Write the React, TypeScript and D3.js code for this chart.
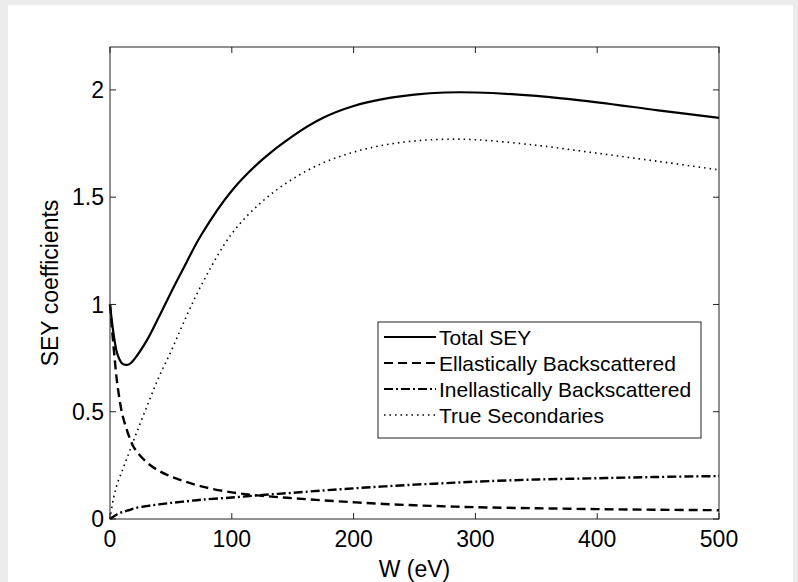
import { useEffect, useRef } from 'react';
import * as d3 from 'd3';

// energy grid (eV)
const energies = [0, 3, 6, 10, 13, 16, 20, 30, 40, 50, 60, 75, 100, 125, 150, 175, 200, 225, 250, 275, 300, 350, 400, 450, 500];

const totalSey = [1.0, 0.86, 0.77, 0.725, 0.718, 0.722, 0.745, 0.83, 0.94, 1.055, 1.165, 1.325, 1.53, 1.675, 1.785, 1.87, 1.925, 1.958, 1.978, 1.988, 1.988, 1.972, 1.942, 1.905, 1.87];
const elastic = [1.0, 0.80, 0.63, 0.49, 0.43, 0.38, 0.33, 0.265, 0.225, 0.198, 0.178, 0.152, 0.124, 0.108, 0.097, 0.087, 0.078, 0.07, 0.064, 0.059, 0.055, 0.05, 0.046, 0.043, 0.041];
const inelastic = [0.0, 0.012, 0.022, 0.032, 0.037, 0.042, 0.05, 0.06, 0.068, 0.075, 0.081, 0.09, 0.10, 0.112, 0.122, 0.133, 0.143, 0.152, 0.16, 0.167, 0.174, 0.184, 0.19, 0.196, 0.20];
const trueSec = [0.0, 0.10, 0.165, 0.225, 0.27, 0.315, 0.375, 0.52, 0.66, 0.78, 0.91, 1.09, 1.33, 1.48, 1.585, 1.66, 1.71, 1.743, 1.762, 1.77, 1.768, 1.742, 1.705, 1.667, 1.627];

const seriesNames = ['Total SEY', 'Ellastically Backscattered', 'Inellastically Backscattered', 'True Secondaries'];
const xTicks = [0, 100, 200, 300, 400, 500];
const yTicks = [0, 0.5, 1, 1.5, 2];

const W = 798, H = 582;
const FONT = '"Liberation Sans", Arial, Helvetica, sans-serif';

export default function App() {
  const svgRef = useRef<SVGSVGElement>(null);

  useEffect(() => {
    const svg = d3.select(svgRef.current);
    svg.selectAll('*').remove();

    // figure background
    svg.append('rect').attr('width', W).attr('height', H).attr('fill', '#ebebeb');
    svg.append('rect').attr('x', 8).attr('y', 5).attr('width', 785).attr('height', H - 5).attr('fill', '#fff');

    const m = { left: 110, top: 47, right: 719, bottom: 519 };
    const x = d3.scaleLinear().domain([0, 500]).range([m.left, m.right]);
    const y = d3.scaleLinear().domain([0, 2.2]).range([m.bottom, m.top]);

    const styles = [
      { dash: null, width: 2.2 },
      { dash: '9,5', width: 2.4 },
      { dash: '9,3,2,3', width: 2.4 },
      { dash: '1.5,4', width: 1.6 },
    ];
    const allSeries = [totalSey, elastic, inelastic, trueSec];

    const line = d3.line<number>()
      .x((_, i) => x(energies[i]))
      .y(d => y(d))
      .curve(d3.curveCatmullRom.alpha(0.5));

    const plot = svg.append('g');
    allSeries.forEach((vals, k) => {
      plot.append('path')
        .attr('d', line(vals))
        .attr('fill', 'none')
        .attr('stroke', '#000')
        .attr('stroke-width', styles[k].width)
        .attr('stroke-dasharray', styles[k].dash);
    });

    // box + inward ticks
    const ax = svg.append('g').attr('stroke', '#222').attr('stroke-width', 1);
    ax.append('rect')
      .attr('x', m.left).attr('y', m.top)
      .attr('width', m.right - m.left).attr('height', m.bottom - m.top)
      .attr('fill', 'none');
    const tl = 6;
    xTicks.forEach(t => {
      ax.append('line').attr('x1', x(t)).attr('x2', x(t)).attr('y1', m.bottom).attr('y2', m.bottom - tl);
      ax.append('line').attr('x1', x(t)).attr('x2', x(t)).attr('y1', m.top).attr('y2', m.top + tl);
    });
    yTicks.forEach(t => {
      ax.append('line').attr('x1', m.left).attr('x2', m.left + tl).attr('y1', y(t)).attr('y2', y(t));
      ax.append('line').attr('x1', m.right).attr('x2', m.right - tl).attr('y1', y(t)).attr('y2', y(t));
    });

    const txt = svg.append('g').attr('font-family', FONT).attr('fill', '#000');
    xTicks.forEach(t => {
      txt.append('text').attr('x', x(t)).attr('y', 547)
        .attr('text-anchor', 'middle').attr('font-size', 23).text(d3.format('~g')(t));
    });
    yTicks.forEach(t => {
      txt.append('text').attr('x', 104).attr('y', y(t)).attr('dy', '0.36em')
        .attr('text-anchor', 'end').attr('font-size', 23).text(d3.format('~g')(t));
    });
    txt.append('text').attr('x', (m.left + m.right) / 2).attr('y', 577)
      .attr('text-anchor', 'middle').attr('font-size', 23).text('W (eV)');
    txt.append('text')
      .attr('transform', `translate(58,${(m.top + m.bottom) / 2}) rotate(-90)`)
      .attr('text-anchor', 'middle').attr('font-size', 23).text('SEY coefficients');

    // legend
    const lg = svg.append('g');
    lg.append('rect').attr('x', 378).attr('y', 322).attr('width', 323).attr('height', 116)
      .attr('fill', '#fff').attr('stroke', '#222').attr('stroke-width', 1);
    seriesNames.forEach((name, k) => {
      const ry = 337 + k * 26;
      lg.append('line').attr('x1', 384).attr('x2', 436).attr('y1', ry).attr('y2', ry)
        .attr('stroke', '#000')
        .attr('stroke-width', k === 3 ? 1.4 : 2)
        .attr('stroke-dasharray', styles[k].dash);
      lg.append('text').attr('x', 439).attr('y', ry).attr('dy', '0.36em')
        .attr('font-family', FONT).attr('font-size', 21).text(name);
    });
  }, []);

  return (
    <div style={{ position: 'fixed', left: 0, top: 0, width: W, height: H }}>
      <svg ref={svgRef} width={W} height={H} style={{ display: 'block' }} />
    </div>
  );
}
